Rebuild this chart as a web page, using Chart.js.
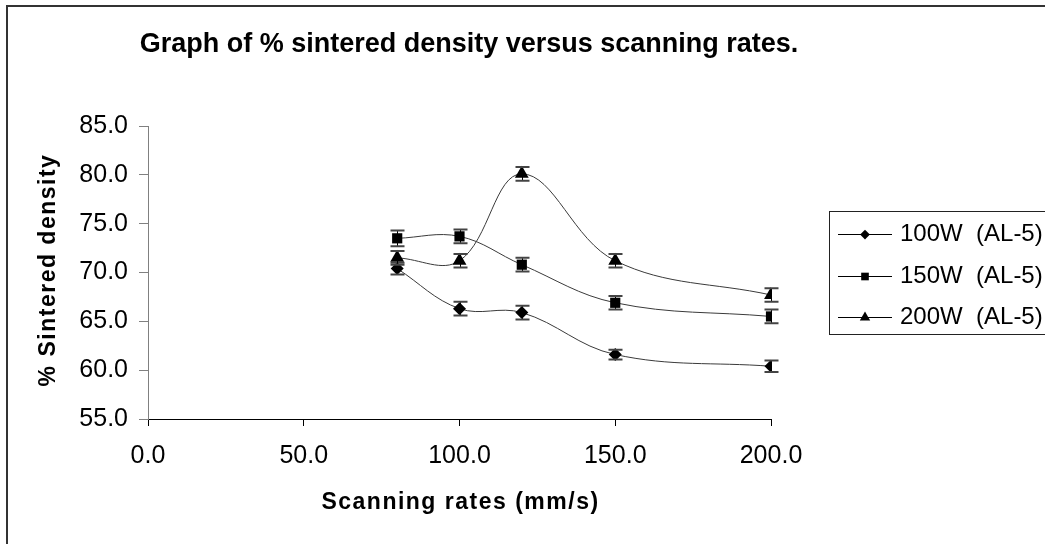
<!DOCTYPE html>
<html>
<head>
<meta charset="utf-8">
<script src="https://cdn.jsdelivr.net/npm/chart.js@4"></script>
<style>
    body { margin: 0; background: #fff; }
</style>
</head>
<body>
<canvas id="myChart" width="1045" height="544"></canvas>
<script>
// data
let scanRates = [80, 100, 120, 150, 200];
let density100W = [70.4, 66.3, 65.9, 61.6, 60.4];
let density150W = [73.5, 73.7, 70.8, 66.9, 65.5];
let density200W = [71.5, 71.2, 80.1, 71.2, 67.7];
let error100W = [0.6, 0.7, 0.7, 0.5, 0.6];
let error150W = [0.8, 0.7, 0.7, 0.7, 0.7];
let error200W = [0.7, 0.7, 0.7, 0.7, 0.7];
let seriesLabels = ['100W  (AL-5)', '150W  (AL-5)', '200W  (AL-5)'];
let yTicks = [55, 60, 65, 70, 75, 80, 85];
let xTicks = [0, 50, 100, 150, 200];

let chartTitle = 'Graph of % sintered density versus scanning rates.';
let xTitle = 'Scanning rates (mm/s)';
let yTitle = '% Sintered density';

let font = "'Liberation Sans', Arial, sans-serif";

function points(values) {
    return scanRates.map((x, i) => ({ x: x, y: values[i] }));
}

function makeSet(label, values, errors, style, radius) {
    return {
        label: label,
        data: points(values),
        errors: errors,
        borderColor: '#3a3a3a',
        borderWidth: 1,
        backgroundColor: '#000',
        pointBackgroundColor: '#000',
        pointBorderColor: '#000',
        pointBorderWidth: 0,
        pointStyle: style,
        pointRadius: radius,
        legendRadius: radius * 0.75,
        tension: 0.38,
        fill: false
    };
}

// error bars, title, axis titles, legend box and frame
let extras = {
    id: 'extras',
    afterDatasetsDraw(chart) {
        let ctx = chart.ctx;
        let xs = chart.scales.x;
        let ys = chart.scales.y;
        ctx.save();
        chart.data.datasets.forEach((ds) => {
            ds.data.forEach((p, i) => {
                let px = Math.round(xs.getPixelForValue(p.x)) + 0.5;
                let top = ys.getPixelForValue(p.y + ds.errors[i]);
                let bot = ys.getPixelForValue(p.y - ds.errors[i]);
                ctx.strokeStyle = '#000';
                ctx.lineWidth = 1;
                ctx.beginPath();
                ctx.moveTo(px, top);
                ctx.lineTo(px, bot);
                ctx.stroke();
                ctx.strokeStyle = '#444';
                ctx.lineWidth = 2;
                ctx.beginPath();
                ctx.moveTo(px - 7, top);
                ctx.lineTo(px + 7, top);
                ctx.moveTo(px - 7, bot);
                ctx.lineTo(px + 7, bot);
                ctx.stroke();
            });
        });
        ctx.restore();
    },
    afterDraw(chart) {
        let ctx = chart.ctx;
        let xs = chart.scales.x;
        ctx.save();

        // outer frame (right and bottom edges fall off the picture)
        ctx.strokeStyle = '#333';
        ctx.lineWidth = 2;
        ctx.strokeRect(7, 6, 1200, 700);

        ctx.fillStyle = '#000';
        ctx.textAlign = 'center';
        ctx.textBaseline = 'alphabetic';
        ctx.font = 'bold 27px ' + font;
        ctx.fillText(chartTitle, 469, 52);

        ctx.font = 'bold 23px ' + font;
        ctx.letterSpacing = '1.5px';
        ctx.fillText(xTitle, (xs.left + xs.right) / 2 + 1, 509);
        ctx.save();
        ctx.translate(55, 270);
        ctx.rotate(-Math.PI / 2);
        ctx.fillText(yTitle, 0, 0);
        ctx.restore();
        ctx.letterSpacing = '0px';

        // legend box
        ctx.strokeStyle = '#222';
        ctx.lineWidth = 1;
        ctx.strokeRect(829.5, 211.5, 300, 123);
        let rows = [234, 276, 317];
        ctx.font = '24px ' + font;
        ctx.textAlign = 'left';
        chart.data.datasets.forEach((ds, i) => {
            let y = rows[i] + 0.5;
            ctx.strokeStyle = '#000';
            ctx.lineWidth = 1;
            ctx.beginPath();
            ctx.moveTo(838, y);
            ctx.lineTo(892, y);
            ctx.stroke();
            ctx.fillStyle = '#000';
            Chart.helpers.drawPoint(ctx, {
                pointStyle: ds.pointStyle,
                radius: ds.legendRadius,
                rotation: 0,
                borderWidth: 0
            }, 865, y);
            ctx.fillStyle = '#000';
            ctx.fillText(ds.label, 900, rows[i] + 7);
        });
        ctx.restore();
    }
};

let diagramma = document.getElementById('myChart').getContext('2d');
let myChart = new Chart(diagramma, {
    type: 'line',
    data: {
        datasets: [
            makeSet(seriesLabels[0], density100W, error100W, 'rectRot', 6.5),
            makeSet(seriesLabels[1], density150W, error150W, 'rect', 7.2),
            makeSet(seriesLabels[2], density200W, error200W, 'triangle', 8)
        ]
    },
    options: {
        responsive: false,
        animation: false,
        layout: {
            padding: { left: 6, top: 126, right: 274, bottom: 0 }
        },
        plugins: {
            legend: false,
            tooltip: { enabled: false }
        },
        scales: {
            x: {
                type: 'linear',
                min: xTicks[0],
                max: xTicks[xTicks.length - 1],
                afterFit: (s) => { s.height = 125; },
                afterBuildTicks: (s) => { s.ticks = xTicks.map(v => ({ value: v })); },
                border: { color: '#000', width: 1 },
                grid: {
                    drawOnChartArea: false,
                    tickLength: 7,
                    tickColor: '#000'
                },
                ticks: {
                    padding: 15,
                    color: '#000',
                    maxRotation: 0,
                    font: { family: font, size: 25 },
                    callback: (value) => value.toFixed(1)
                }
            },
            y: {
                min: yTicks[0],
                max: yTicks[yTicks.length - 1],
                afterFit: (s) => { s.width = 142; },
                afterBuildTicks: (s) => { s.ticks = yTicks.map(v => ({ value: v })); },
                border: { color: '#808080', width: 1 },
                grid: {
                    drawOnChartArea: false,
                    tickLength: 9,
                    tickColor: '#808080'
                },
                ticks: {
                    padding: 11,
                    color: '#000',
                    font: { family: font, size: 25 },
                    callback: (value) => value.toFixed(1)
                }
            }
        }
    },
    plugins: [extras]
});
</script>
</body>
</html>
